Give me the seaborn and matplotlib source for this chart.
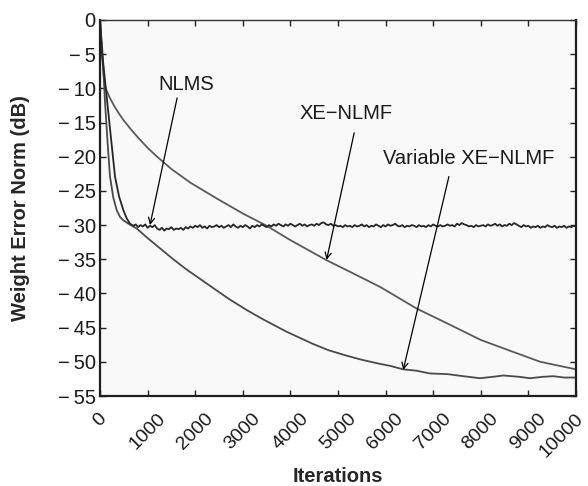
import numpy as np
import pandas as pd
import matplotlib
matplotlib.use("Agg")
import matplotlib.pyplot as plt
import matplotlib.transforms as mtransforms
import seaborn as sns

# ---------------- data ----------------
nlms_x_start = [0, 40, 100, 170, 250, 315, 400, 490, 560, 630]
nlms_y_start = [0, -4.5, -8.5, -13.2, -18.5, -22.9, -25.8, -27.8, -29.0, -29.8]
nlms_y_steady = [
    -30.1, -29.9, -30.3, -30.0, -30.2, -29.9, -30.4, -30.1, -30.3, -30.0, -30.5, -30.7, -30.4, -30.8, -30.5, -30.6, -30.3, -30.7, -30.5, -30.6,
    -30.4, -30.7, -30.3, -30.5, -30.2, -30.4, -30.1, -30.3, -30.0, -30.4, -30.2, -30.5, -30.1, -30.3, -30.2, -30.0, -30.3, -30.1, -30.4, -30.2,
    -30.0, -30.3, -29.9, -30.2, -30.4, -30.1, -30.3, -30.0, -30.2, -30.5, -30.1, -30.3, -30.0, -30.2, -29.9, -30.1, -30.3, -30.0, -30.2, -29.9,
    -30.1, -29.8, -30.0, -30.2, -29.9, -30.1, -29.8, -30.0, -30.2, -30.0, -29.8, -30.1, -29.9, -30.2, -30.0, -29.9, -30.1, -29.8, -30.0, -29.7,
    -29.6, -29.9, -30.0, -29.8, -30.1, -30.0, -30.2, -30.1, -30.3, -30.0, -30.2, -30.1, -30.3, -30.0, -30.2, -30.1, -29.9, -30.2, -30.0, -30.3,
    -30.1, -30.2, -29.9, -30.1, -30.3, -30.0, -30.2, -29.9, -30.1, -30.0, -29.8, -30.1, -30.2, -30.0, -30.3, -30.1, -30.2, -30.0, -30.1, -30.3,
    -30.0, -30.2, -30.1, -30.3, -30.0, -30.2, -29.9, -30.1, -30.2, -30.0, -30.2, -30.1, -29.9, -30.1, -30.0, -30.2, -29.8, -30.0, -29.7, -29.9,
    -30.0, -30.2, -30.1, -30.3, -30.0, -30.2, -30.1, -30.0, -30.2, -29.9, -30.1, -30.0, -29.8, -30.1, -29.9, -30.2, -30.0, -30.1, -29.8, -30.0,
    -29.7, -29.9, -30.1, -30.3, -30.0, -30.2, -30.1, -30.4, -30.2, -30.3, -30.1, -30.4, -30.2, -30.3, -30.0, -30.2, -30.3, -30.1, -30.4, -30.2,
    -30.3, -30.1, -30.4, -30.2, -30.3, -30.1, -30.2,
]
nlms_x_steady = list(range(700, 10001, 50))

xe_x = [0, 40, 80, 120, 200, 300, 400, 500, 650, 800, 1000, 1200, 1500, 1900, 2500,
        3000, 3500, 4000, 4750, 5300, 5900, 6650, 7300, 8000, 8700, 9250, 10000]
xe_y = [0, -5.0, -8.3, -10.0, -11.3, -12.6, -13.7, -14.7, -16.0, -17.2, -18.7, -20.0, -21.8, -23.8, -26.3,
        -28.3, -30.1, -32.2, -35.1, -37.0, -39.1, -42.2, -44.4, -46.8, -48.6, -50.0, -51.1]

var_x = [0, 50, 105, 160, 210, 280, 350, 420, 490, 600, 770, 1000, 1330, 1540, 1800, 2170, 2500, 2730,
         3100, 3430, 3920, 4480, 4800, 5180, 5500, 5880, 6100, 6370, 6650, 6930, 7300, 7630, 7980,
         8250, 8470, 8820, 9030, 9300, 9520, 9750, 10000]
var_y = [0, -4.5, -12.0, -18.0, -22.9, -26.0, -27.8, -28.8, -29.3, -29.8, -30.5, -31.9, -33.8, -35.0, -36.4, -38.2, -39.8, -40.9,
         -42.5, -43.8, -45.6, -47.4, -48.3, -49.1, -49.7, -50.3, -50.6, -51.1, -51.3, -51.7, -51.8, -52.1, -52.4,
         -52.2, -52.0, -52.2, -52.4, -52.2, -52.1, -52.3, -52.3]

x_ticks = [0, 1000, 2000, 3000, 4000, 5000, 6000, 7000, 8000, 9000, 10000]
y_ticks = [0, -5, -10, -15, -20, -25, -30, -35, -40, -45, -50, -55]

# ---------------- style ----------------
sns.set_theme(style="ticks")
plt.rcParams["font.family"] = ["Liberation Sans", "DejaVu Sans"]
plt.rcParams["axes.unicode_minus"] = True

fig = plt.figure(figsize=(5.88, 4.86), dpi=100)
ax = fig.add_axes([100 / 588, 1 - 396 / 486, 476 / 588, 376 / 486])
ax.set_facecolor("#f9f9f9")

nlms_df = pd.DataFrame({"x": nlms_x_start + nlms_x_steady, "y": nlms_y_start + nlms_y_steady})
xe_df = pd.DataFrame({"x": xe_x, "y": xe_y})
var_df = pd.DataFrame({"x": var_x, "y": var_y})

sns.lineplot(data=xe_df, x="x", y="y", ax=ax, color="#5a5a5a", lw=1.3, sort=False)
sns.lineplot(data=var_df, x="x", y="y", ax=ax, color="#4a4a4a", lw=1.3, sort=False)
sns.lineplot(data=nlms_df, x="x", y="y", ax=ax, color="#262626", lw=1.3, sort=False)

ax.set_xlim(0, 10000)
ax.set_ylim(-55, 0)
ax.set_xticks(x_ticks)
ax.set_yticks(y_ticks)
ax.set_xticklabels([str(v) for v in x_ticks], rotation=45, ha="center", fontsize=14)
ax.set_yticklabels([("\u2212\u2009" + str(-v)) if v < 0 else str(v) for v in y_ticks], fontsize=14.5)

ax.tick_params(axis="both", direction="in", length=4, width=1, color="#222222",
               top=True, right=True, labelcolor="#1a1a1a")
ax.tick_params(axis="x", pad=10)
ax.tick_params(axis="y", pad=3)

for side in ["left", "bottom", "right"]:
    ax.spines[side].set_linewidth(1.6)
    ax.spines[side].set_color("#1e1e1e")
ax.spines["top"].set_linewidth(1.0)
ax.spines["top"].set_color("#333333")

# shift the last x label left so it stays in the figure
lbl = ax.get_xticklabels()[-1]
lbl.set_transform(lbl.get_transform() + mtransforms.ScaledTranslation(-14 / 100, 0, fig.dpi_scale_trans))

ax.set_xlabel("Iterations", fontsize=14.5, fontweight="bold")
ax.set_ylabel("Weight Error Norm (dB)", fontsize=14.5, fontweight="bold")
ax.xaxis.set_label_coords(0.5, -0.19)
ax.yaxis.set_label_coords(-0.147, 0.5)

# annotations
arrow_kw = dict(arrowstyle="->", color="black", lw=0.9, shrinkA=0, shrinkB=0, mutation_scale=11)
ax.text(1807, -9.5, "NLMS", fontsize=14.5, ha="center", va="center", color="#1a1a1a")
ax.annotate("", xy=(1050, -30.0), xytext=(1620, -11.4), arrowprops=arrow_kw)
ax.text(5170, -13.7, "XE\u2212NLMF", fontsize=14.5, ha="center", va="center", color="#1a1a1a")
ax.annotate("", xy=(4760, -35.1), xytext=(5340, -16.5), arrowprops=arrow_kw)
ax.text(7740, -20.2, "Variable XE\u2212NLMF", fontsize=14.5, ha="center", va="center", color="#1a1a1a")
ax.annotate("", xy=(6370, -51.2), xytext=(7330, -22.9), arrowprops=arrow_kw)

fig.savefig("out.png", dpi=100)
